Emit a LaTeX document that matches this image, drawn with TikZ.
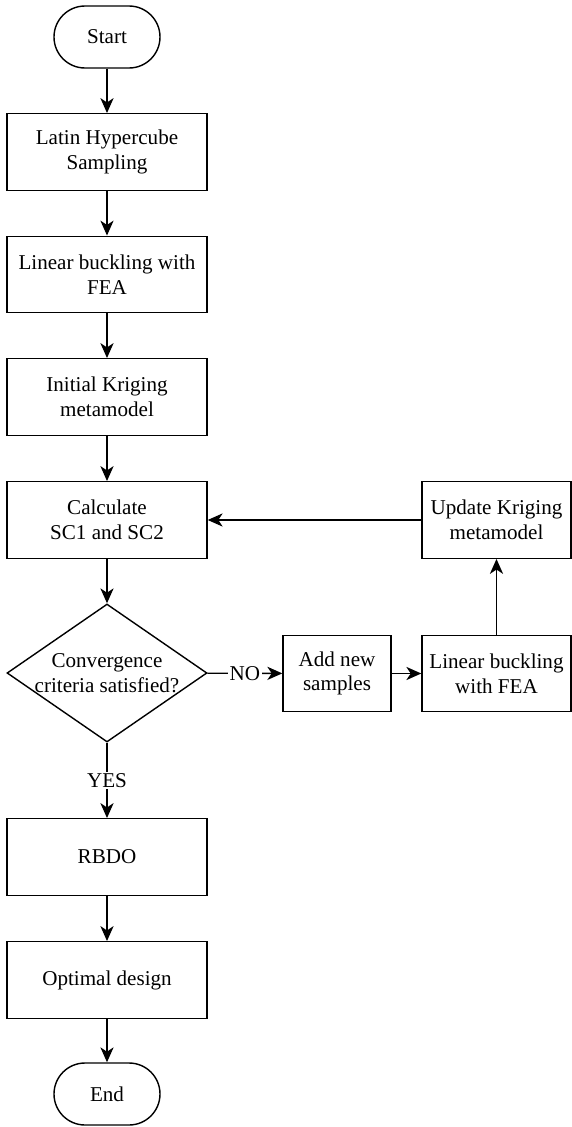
\documentclass[tikz,border=0pt]{standalone}
\usepackage{fontspec}
\setmainfont{Liberation Serif}
\usetikzlibrary{shapes.geometric,arrows.meta}

\begin{document}
\begin{tikzpicture}[font=\fontsize{12}{14}\selectfont, line width=0.8pt,
	box/.style={rectangle, draw=black, align=center, minimum height=1.53cm},
	term/.style={rectangle, rounded corners=0.62cm, draw=black, minimum width=2.12cm, minimum height=1.24cm},
	decision/.style={diamond, draw=black, align=center, inner sep=-8pt, minimum width=4cm, minimum height=2.76cm},
	flow/.style={-{Stealth[length=8.5pt, width=7.5pt, inset=2.5pt]}}]

\useasboundingbox (0,0) rectangle (11.44,-22.54);

% Main column
\node[term] (start) at (2.14,-0.74) {Start};
\node[box, minimum width=4cm] (lhs) at (2.14,-3.04) {Latin Hypercube\\Sampling};
\node[box, minimum width=4cm] (fea) at (2.14,-5.49) {Linear buckling with\\FEA};
\node[box, minimum width=4cm] (krig) at (2.14,-7.94) {Initial Kriging\\metamodel};
\node[box, minimum width=4cm] (calc) at (2.14,-10.4) {Calculate\\SC1 and SC2};
\node[decision] (conv) at (2.14,-13.46) {Convergence\\criteria satisfied?};
\node[box, minimum width=4cm] (rbdo) at (2.14,-17.14) {RBDO};
\node[box, minimum width=4cm] (opt) at (2.14,-19.6) {Optimal design};
\node[term] (end) at (2.14,-21.88) {End};

% Update loop
\node[box, minimum width=2.16cm] (add) at (6.74,-13.47) {Add new\\samples};
\node[box, minimum width=2.98cm] (fea2) at (9.93,-13.47) {Linear buckling\\with FEA};
\node[box, minimum width=2.98cm] (upd) at (9.93,-10.4) {Update Kriging\\metamodel};

% Connections down the main column
\foreach \a/\b in {start/lhs, lhs/fea, fea/krig, krig/calc, calc/conv, rbdo/opt, opt/end}
	\draw[flow] (\a) -- (\b);
\draw[flow] (conv) -- node[midway, fill=white, inner sep=1pt] {YES} (rbdo);

% Connections of the loop
\draw[flow] (conv) -- node[midway, fill=white, inner sep=1pt] {NO} (add);
\draw[flow] (add) -- (fea2);
\draw[flow] (fea2) -- (upd);
\draw[flow] (upd) -- (calc);
\end{tikzpicture}
\end{document}
